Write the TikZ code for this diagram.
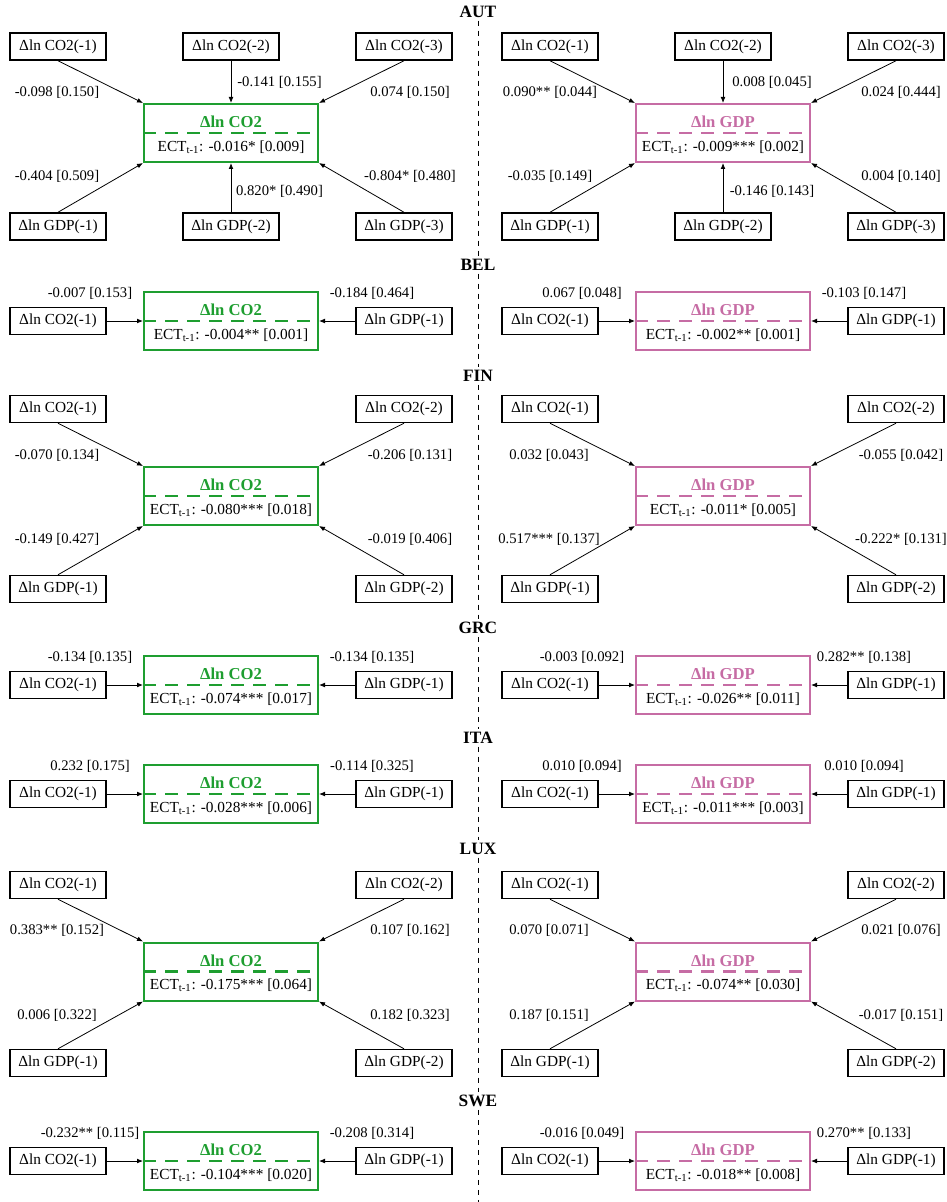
\documentclass[tikz,border=0pt]{standalone}
\usepackage{fontspec}
\setmainfont{Liberation Serif}
\usetikzlibrary{arrows.meta}
\definecolor{co2green}{RGB}{30,158,48}
\definecolor{gdppink}{RGB}{198,108,164}

% centre box of a panel: name, x, y, colour, heading, ECT value
\newcommand{\corebox}[6]{%
  \node[corenode, draw=#4] (#1) at (#2,#3) {};
  \draw[split, draw=#4] (#1.west) -- (#1.east);
  \node[ttl, text=#4] (#1-t) at ([yshift=8.25pt]#1.center) {#5};
  \node[ect] (#1-e) at ([yshift=-10.5pt]#1.center) {ECT\textsubscript{t-1}: #6};
}
% one-lag panel: name, x, y, colour, heading, ECT value, left coefficient, right coefficient
\newcommand{\singlepanel}[8]{%
  \corebox{#1}{#2}{#3}{#4}{#5}{#6}
  \node[var] (#1-l) at (#2-173,#3) {Δln CO2(-1)};
  \node[var] (#1-r) at (#2+173,#3) {Δln GDP(-1)};
  \node[coef] (#1-lc) at (#2-141,#3-28) {#7};
  \node[coef] (#1-rc) at (#2+141,#3-28) {#8};
  \draw[link] (#1-l.east) -- (#1.west);
  \draw[link] (#1-r.west) -- (#1.east);
}

\begin{document}
\begin{tikzpicture}[x=0.75pt,y=-0.75pt,
  var/.style={draw, line width=1.1pt, minimum width=72pt, minimum height=20.25pt,
    inner sep=0pt, font=\fontsize{11.5}{13}\selectfont},
  corenode/.style={line width=1.5pt, minimum width=130.5pt, minimum height=43.5pt, inner sep=0pt},
  split/.style={line width=1.8pt, dash pattern=on 10pt off 6.5pt},
  ttl/.style={inner sep=0pt, font=\bfseries\fontsize{12.5}{14}\selectfont},
  ect/.style={inner sep=0pt, font=\fontsize{11.5}{13}\selectfont},
  coef/.style={inner sep=1pt, font=\fontsize{11}{13}\selectfont},
  link/.style={-{Latex[length=4.5pt,width=3.6pt]}, line width=0.6pt},
  cty/.style={inner sep=2pt, font=\bfseries\fontsize{13}{15}\selectfont},
  divider/.style={line width=0.6pt, dash pattern=on 4pt off 3.5pt}
]
\useasboundingbox (0,0) rectangle (946,1202);

% country headings and the dashed divider between the two columns
\node[cty] (aut) at (478,12) {AUT};
\node[cty] (bel) at (478,265) {BEL};
\node[cty] (fin) at (478,376) {FIN};
\node[cty] (grc) at (478,628) {GRC};
\node[cty] (ita) at (478,738) {ITA};
\node[cty] (lux) at (478,849) {LUX};
\node[cty] (swe) at (478,1101) {SWE};
\coordinate (foot) at (478,1202);
\draw[divider] (aut.south) -- (bel.north);
\draw[divider] (bel.south) -- (fin.north);
\draw[divider] (fin.south) -- (grc.north);
\draw[divider] (grc.south) -- (ita.north);
\draw[divider] (ita.south) -- (lux.north);
\draw[divider] (lux.south) -- (swe.north);
\draw[divider] (swe.south) -- (foot);

% ---------------- AUT ----------------
\corebox{autL}{231}{133}{co2green}{Δln CO2}{-0.016* [0.009]}
\node[var] (autL-a1) at (58,46.5) {Δln CO2(-1)};
\node[var] (autL-a2) at (231,46.5) {Δln CO2(-2)};
\node[var] (autL-a3) at (404,46.5) {Δln CO2(-3)};
\node[var] (autL-b1) at (58,226.5) {Δln GDP(-1)};
\node[var] (autL-b2) at (231,226.5) {Δln GDP(-2)};
\node[var] (autL-b3) at (404,226.5) {Δln GDP(-3)};
\draw[link] (autL-a1.south) -- (autL.north west);
\draw[link] (autL-a2.south) -- (autL.north);
\draw[link] (autL-a3.south) -- (autL.north east);
\draw[link] (autL-b1.north) -- (autL.south west);
\draw[link] (autL-b2.north) -- (autL.south);
\draw[link] (autL-b3.north) -- (autL.south east);
\node[coef] (autL-c1) at (57,92) {-0.098 [0.150]};
\node[coef] (autL-c2) at (279.5,82) {-0.141 [0.155]};
\node[coef] (autL-c3) at (410,92) {0.074 [0.150]};
\node[coef] (autL-c4) at (57,176) {-0.404 [0.509]};
\node[coef] (autL-c5) at (279.5,191) {0.820* [0.490]};
\node[coef] (autL-c6) at (410,176) {-0.804* [0.480]};

\corebox{autR}{723}{133}{gdppink}{Δln GDP}{-0.009*** [0.002]}
\node[var] (autR-a1) at (550,46.5) {Δln CO2(-1)};
\node[var] (autR-a2) at (723,46.5) {Δln CO2(-2)};
\node[var] (autR-a3) at (896,46.5) {Δln CO2(-3)};
\node[var] (autR-b1) at (550,226.5) {Δln GDP(-1)};
\node[var] (autR-b2) at (723,226.5) {Δln GDP(-2)};
\node[var] (autR-b3) at (896,226.5) {Δln GDP(-3)};
\draw[link] (autR-a1.south) -- (autR.north west);
\draw[link] (autR-a2.south) -- (autR.north);
\draw[link] (autR-a3.south) -- (autR.north east);
\draw[link] (autR-b1.north) -- (autR.south west);
\draw[link] (autR-b2.north) -- (autR.south);
\draw[link] (autR-b3.north) -- (autR.south east);
\node[coef] (autR-c1) at (550,92) {0.090** [0.044]};
\node[coef] (autR-c2) at (772,82) {0.008 [0.045]};
\node[coef] (autR-c3) at (901,92) {0.024 [0.444]};
\node[coef] (autR-c4) at (550,176) {-0.035 [0.149]};
\node[coef] (autR-c5) at (772,191) {-0.146 [0.143]};
\node[coef] (autR-c6) at (901,176) {0.004 [0.140]};

% ---------------- BEL ----------------
\singlepanel{belL}{231}{321}{co2green}{Δln CO2}{-0.004** [0.001]}{-0.007 [0.153]}{-0.184 [0.464]}
\singlepanel{belR}{723}{321}{gdppink}{Δln GDP}{-0.002** [0.001]}{0.067 [0.048]}{-0.103 [0.147]}

% ---------------- FIN ----------------
\corebox{finL}{231}{496}{co2green}{Δln CO2}{-0.080*** [0.018]}
\node[var] (finL-a1) at (58,409) {Δln CO2(-1)};
\node[var] (finL-a2) at (404,409) {Δln CO2(-2)};
\node[var] (finL-b1) at (58,589) {Δln GDP(-1)};
\node[var] (finL-b2) at (404,589) {Δln GDP(-2)};
\draw[link] (finL-a1.south) -- (finL.north west);
\draw[link] (finL-a2.south) -- (finL.north east);
\draw[link] (finL-b1.north) -- (finL.south west);
\draw[link] (finL-b2.north) -- (finL.south east);
\node[coef] (finL-c1) at (57,455) {-0.070 [0.134]};
\node[coef] (finL-c2) at (410,455) {-0.206 [0.131]};
\node[coef] (finL-c3) at (57,539) {-0.149 [0.427]};
\node[coef] (finL-c4) at (410,539) {-0.019 [0.406]};

\corebox{finR}{723}{496}{gdppink}{Δln GDP}{-0.011* [0.005]}
\node[var] (finR-a1) at (550,409) {Δln CO2(-1)};
\node[var] (finR-a2) at (896,409) {Δln CO2(-2)};
\node[var] (finR-b1) at (550,589) {Δln GDP(-1)};
\node[var] (finR-b2) at (896,589) {Δln GDP(-2)};
\draw[link] (finR-a1.south) -- (finR.north west);
\draw[link] (finR-a2.south) -- (finR.north east);
\draw[link] (finR-b1.north) -- (finR.south west);
\draw[link] (finR-b2.north) -- (finR.south east);
\node[coef] (finR-c1) at (549,455) {0.032 [0.043]};
\node[coef] (finR-c2) at (901,455) {-0.055 [0.042]};
\node[coef] (finR-c3) at (549,539) {0.517*** [0.137]};
\node[coef] (finR-c4) at (901,539) {-0.222* [0.131]};

% ---------------- GRC ----------------
\singlepanel{grcL}{231}{685}{co2green}{Δln CO2}{-0.074*** [0.017]}{-0.134 [0.135]}{-0.134 [0.135]}
\singlepanel{grcR}{723}{685}{gdppink}{Δln GDP}{-0.026** [0.011]}{-0.003 [0.092]}{0.282** [0.138]}

% ---------------- ITA ----------------
\singlepanel{itaL}{231}{794}{co2green}{Δln CO2}{-0.028*** [0.006]}{0.232 [0.175]}{-0.114 [0.325]}
\singlepanel{itaR}{723}{794}{gdppink}{Δln GDP}{-0.011*** [0.003]}{0.010 [0.094]}{0.010 [0.094]}

% ---------------- LUX ----------------
\corebox{luxL}{231}{971.5}{co2green}{Δln CO2}{-0.175*** [0.064]}
\node[var] (luxL-a1) at (58,885) {Δln CO2(-1)};
\node[var] (luxL-a2) at (404,885) {Δln CO2(-2)};
\node[var] (luxL-b1) at (58,1063) {Δln GDP(-1)};
\node[var] (luxL-b2) at (404,1063) {Δln GDP(-2)};
\draw[link] (luxL-a1.south) -- (luxL.north west);
\draw[link] (luxL-a2.south) -- (luxL.north east);
\draw[link] (luxL-b1.north) -- (luxL.south west);
\draw[link] (luxL-b2.north) -- (luxL.south east);
\node[coef] (luxL-c1) at (57,930) {0.383** [0.152]};
\node[coef] (luxL-c2) at (410,930) {0.107 [0.162]};
\node[coef] (luxL-c3) at (57,1015) {0.006 [0.322]};
\node[coef] (luxL-c4) at (410,1015) {0.182 [0.323]};

\corebox{luxR}{723}{971.5}{gdppink}{Δln GDP}{-0.074** [0.030]}
\node[var] (luxR-a1) at (550,885) {Δln CO2(-1)};
\node[var] (luxR-a2) at (896,885) {Δln CO2(-2)};
\node[var] (luxR-b1) at (550,1063) {Δln GDP(-1)};
\node[var] (luxR-b2) at (896,1063) {Δln GDP(-2)};
\draw[link] (luxR-a1.south) -- (luxR.north west);
\draw[link] (luxR-a2.south) -- (luxR.north east);
\draw[link] (luxR-b1.north) -- (luxR.south west);
\draw[link] (luxR-b2.north) -- (luxR.south east);
\node[coef] (luxR-c1) at (549,930) {0.070 [0.071]};
\node[coef] (luxR-c2) at (901,930) {0.021 [0.076]};
\node[coef] (luxR-c3) at (549,1015) {0.187 [0.151]};
\node[coef] (luxR-c4) at (901,1015) {-0.017 [0.151]};

% ---------------- SWE ----------------
\singlepanel{sweL}{231}{1161}{co2green}{Δln CO2}{-0.104*** [0.020]}{-0.232** [0.115]}{-0.208 [0.314]}
\singlepanel{sweR}{723}{1161}{gdppink}{Δln GDP}{-0.018** [0.008]}{-0.016 [0.049]}{0.270** [0.133]}
\end{tikzpicture}
\end{document}
